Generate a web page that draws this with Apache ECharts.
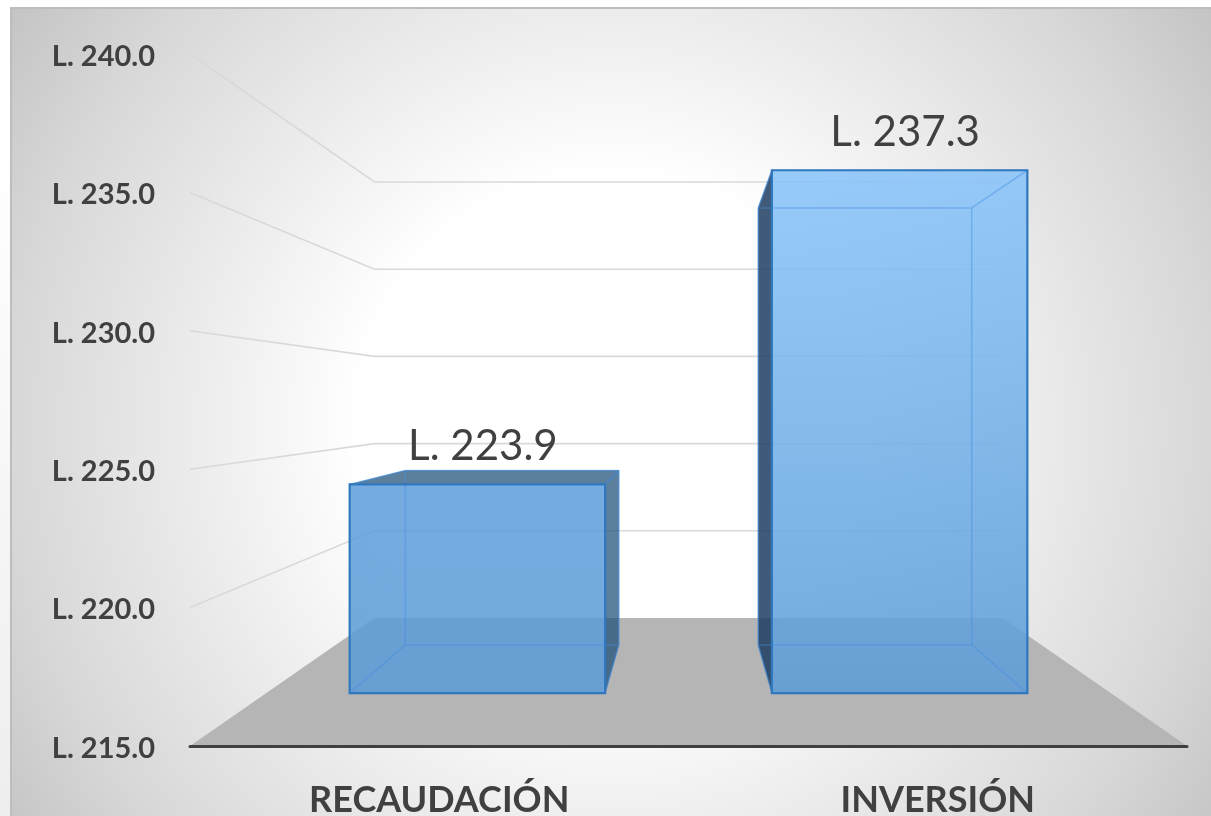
<!DOCTYPE html>
<html>
<head>
<meta charset="utf-8">
<style>html,body{margin:0;padding:0;background:#fff;overflow:hidden}#c{width:1211px;height:816px}</style>
<script src="https://cdn.jsdelivr.net/npm/echarts@6/dist/echarts.min.js"></script>
</head>
<body>
<div id="c"></div>
<script>
const categories = ['RECAUDACIÓN', 'INVERSIÓN'];
const values = [223.9, 237.3];
const yTicks = [215, 220, 225, 230, 235, 240];

const BACK_WALL = 0.63, BAR_FRONT = 0.847, BAR_BACK = 0.708, BAR_WIDTH = 0.605;
const FONT = 'Lato, "Noto Sans", sans-serif';
const FACE_TOP = ['#5f9edb', '#87c3fa'];
const FACE_BOTTOM = '#5c9bd7';
const SIDE = ['rgba(31,78,121,0.72)', 'rgba(28,60,95,0.84)'];
const money = v => 'L. ' + v.toFixed(1);

function projector(params) {
  const cs = params.coordSys;
  const cx = cs.x + cs.width / 2, cy = cs.y + cs.height / 2;
  return (pt, s) => [cx + (pt[0] - cx) * s, cy + (pt[1] - cy) * s];
}

function renderFrame(params, api) {
  const p = projector(params), cs = params.coordSys;
  const y = api.coord([0, api.value(1)])[1];
  const fl = [cs.x, y], fr = [cs.x + cs.width, y];
  const bl = p(fl, BACK_WALL), br = p(fr, BACK_WALL);
  if (api.value(1) === yTicks[0]) {
    return { type: 'polygon', shape: { points: [fl, fr, br, bl] }, style: { fill: '#b5b5b5' } };
  }
  return { type: 'polyline', shape: { points: [fl, bl, br] },
           style: { fill: null, stroke: '#d9d9d9', lineWidth: 1.6 } };
}

function renderBar(params, api) {
  const p = projector(params), i = api.value(0), v = api.value(1);
  const c = api.coord([i, v]), base = api.coord([i, yTicks[0]]);
  const w = api.size([1, 0])[0] * BAR_WIDTH;
  const x0 = c[0] - w / 2, x1 = c[0] + w / 2;
  const corner = (x, y, s) => p([x, y], s);
  const ftl = corner(x0, c[1], BAR_FRONT), ftr = corner(x1, c[1], BAR_FRONT);
  const fbl = corner(x0, base[1], BAR_FRONT), fbr = corner(x1, base[1], BAR_FRONT);
  const btl = corner(x0, c[1], BAR_BACK), btr = corner(x1, c[1], BAR_BACK);
  const bbl = corner(x0, base[1], BAR_BACK), bbr = corner(x1, base[1], BAR_BACK);
  const inner = { stroke: 'rgba(66,140,225,0.42)', lineWidth: 1.6, fill: null };
  const edge = '#2f78bd';
  const line = (a, b) => ({ type: 'line', shape: { x1: a[0], y1: a[1], x2: b[0], y2: b[1] }, style: inner });
  const visibleSide = ftl[0] < btl[0]
    ? [ftr, btr, bbr, fbr]      // bar left of centre: right side shows
    : [ftl, btl, bbl, fbl];     // bar right of centre: left side shows
  const children = [
    { type: 'polygon', shape: { points: visibleSide },
      style: { fill: SIDE[i], stroke: 'rgba(47,120,189,0.6)', lineWidth: 1 } }
  ];
  if (btl[1] < ftl[1]) {
    children.push({ type: 'polygon', shape: { points: [ftl, ftr, btr, btl] },
      style: { fill: SIDE[i], stroke: 'rgba(47,120,189,0.6)', lineWidth: 1 } });
  }
  children.push(
    { type: 'polygon', shape: { points: [ftl, ftr, fbr, fbl] },
      style: {
        opacity: 0.86,
        fill: { type: 'linear', x: 0, y: 0, x2: 0, y2: 1, colorStops: [
          { offset: 0, color: FACE_TOP[i] }, { offset: 1, color: FACE_BOTTOM } ] }
      } },
    line(btl, btr), line(btl, bbl), line(btr, bbr), line(bbl, bbr),
    line(fbl, bbl), line(fbr, bbr), line(ftl, btl), line(ftr, btr),
    { type: 'polygon', shape: { points: [ftl, ftr, fbr, fbl] },
      style: { fill: null, stroke: edge, lineWidth: 2.2 } },
    { type: 'text', style: {
        text: money(v), x: (ftl[0] + ftr[0]) / 2 + 5.5, y: ftl[1] - 38,
        align: 'center', verticalAlign: 'middle',
        font: '400 42px ' + FONT, fill: '#404040' } }
  );
  return { type: 'group', children };
}

const chart = echarts.init(document.getElementById('c'), null, { renderer: 'canvas' });
chart.setOption({
  animation: false,
  backgroundColor: '#ffffff',
  graphic: [
    { type: 'rect', silent: true, z: -10, shape: { x: 0, y: 150, width: 11, height: 666 },
      style: { fill: { type: 'linear', x: 0, y: 0, x2: 0, y2: 1, colorStops: [
        { offset: 0, color: '#ffffff' }, { offset: 1, color: '#eeeeee' } ] } } },
    { type: 'rect', silent: true, z: -9, shape: { x: 11, y: 8, width: 1201, height: 809 },
      style: { stroke: '#bdbdbd', lineWidth: 2,
        fill: { type: 'radial', x: 0.5, y: 0.52, r: 0.92, colorStops: [
          { offset: 0, color: '#ffffff' }, { offset: 0.34, color: '#ffffff' },
          { offset: 0.56, color: '#ececec' }, { offset: 0.8, color: '#d8d8d8' },
          { offset: 1, color: '#c2c2c2' } ] } } }
  ],
  grid: { left: 190, right: 24, top: 54, bottom: 70, containLabel: false, outerBoundsMode: 'none' },
  tooltip: { show: false },
  xAxis: {
    type: 'category', data: categories, z: 5,
    axisLine: { show: true, lineStyle: { color: '#404040', width: 3 } },
    axisTick: { show: false },
    axisLabel: { fontFamily: FONT, fontWeight: 700, fontSize: 36, color: '#404040', margin: 36 }
  },
  yAxis: {
    type: 'value', min: yTicks[0], max: yTicks[yTicks.length - 1], interval: 5,
    axisLine: { show: false }, axisTick: { show: false }, splitLine: { show: false },
    axisLabel: { fontFamily: FONT, fontWeight: 700, fontSize: 29, color: '#404040', margin: 35,
                 verticalAlign: 'top', lineHeight: 5, formatter: v => money(v) }
  },
  series: [
    { type: 'custom', z: 1, silent: true, clip: false, renderItem: renderFrame,
      encode: { x: 0, y: 1 }, data: yTicks.map(v => [0, v]) },
    { type: 'custom', z: 3, silent: true, clip: false, renderItem: renderBar,
      encode: { x: 0, y: 1 }, data: values.map((v, i) => [i, v]) }
  ]
});
</script>
</body>
</html>
